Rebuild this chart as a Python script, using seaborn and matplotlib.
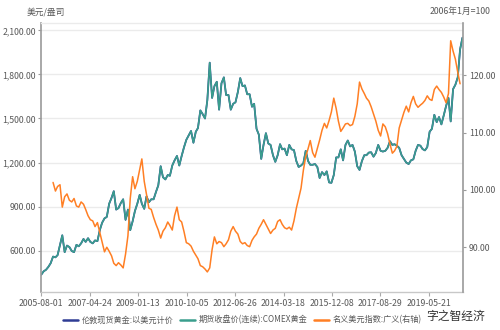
import matplotlib
matplotlib.use("Agg")
import matplotlib.pyplot as plt
from matplotlib.lines import Line2D
from matplotlib.ticker import FuncFormatter, FixedLocator
import seaborn as sns
import pandas as pd

# ---------------- data ----------------
gold_start = "2005-08-01"
gold = [
    437, 460, 470, 490, 515,
    560, 555, 570, 640, 705, 590, 635, 625, 598, 590, 640, 630,
    650, 680, 660, 685, 660, 650, 670, 665, 740, 790, 820, 830,
    920, 960, 1005, 880, 890, 925, 950, 810, 880, 740, 800, 870,
    920, 980, 920, 885, 970, 930, 950, 950, 1000, 1045, 1175, 1100,
    1085, 1115, 1110, 1180, 1215, 1245, 1180, 1245, 1305, 1355, 1385, 1415,
    1335, 1410, 1435, 1555, 1530, 1500, 1625, 1880, 1640, 1720, 1750, 1560,
    1740, 1780, 1660, 1660, 1560, 1600, 1610, 1680, 1775, 1720, 1725, 1665,
    1665, 1580, 1600, 1430, 1390, 1225, 1320, 1400, 1330, 1320, 1250, 1205,
    1250, 1325, 1290, 1295, 1250, 1320, 1290, 1285, 1210, 1170, 1180, 1195,
    1280, 1210, 1185, 1185, 1190, 1170, 1095, 1135, 1115, 1140, 1065, 1062,
    1115, 1235, 1235, 1290, 1215, 1320, 1350, 1310, 1320, 1275, 1175, 1150,
    1210, 1250, 1250, 1268, 1270, 1240, 1265, 1320, 1280, 1275, 1280, 1300,
    1345, 1320, 1325, 1315, 1300, 1250, 1225, 1200, 1190, 1215, 1222, 1280,
    1320, 1315, 1292, 1283, 1305, 1410, 1430, 1525, 1475, 1510, 1460, 1520,
    1585, 1640, 1480, 1700, 1730, 1780, 1970, 2050,
]

usd_start = "2006-01-01"
usd = [
    101.3, 99.8, 100.6, 100.9, 97.0, 98.8, 99.3, 98.2, 97.9, 98.5, 97.2, 97.0,
    97.9, 97.5, 96.6, 95.5, 94.8, 94.6, 93.6, 94.3, 92.6, 91.0, 89.2, 90.0,
    89.3, 88.5, 87.2, 86.8, 87.3, 86.9, 86.4, 88.8, 92.0, 98.5, 102.3, 100.2,
    101.5, 103.5, 105.4, 101.5, 99.2, 96.8, 96.6, 95.2, 94.0, 93.0, 91.6, 92.8,
    93.4, 94.4, 93.8, 93.0, 95.5, 97.0, 94.8, 94.4, 92.7, 90.8, 90.6, 90.2,
    89.3, 88.6, 88.0, 86.8, 86.6, 86.2, 85.7, 86.4, 89.6, 91.8, 90.6, 91.0,
    90.8, 90.1, 90.6, 91.3, 92.8, 93.6, 92.8, 92.3, 91.0, 90.6, 90.8, 90.3,
    90.1, 91.2, 91.8, 92.3, 93.3, 94.0, 94.8, 94.0, 93.2, 92.4, 93.0, 93.3,
    94.5, 94.8, 94.0, 93.4, 93.2, 93.5, 93.0, 94.6, 96.8, 98.5, 100.3, 103.4,
    105.8, 107.2, 108.6, 106.5, 105.7, 107.2, 108.7, 110.4, 111.6, 110.8, 112.1, 113.6,
    116.0, 114.2, 112.0, 110.2, 110.8, 111.5, 111.6, 111.2, 111.4, 112.8, 115.0, 118.8,
    117.6, 116.8, 116.0, 115.5, 114.5, 113.2, 112.0, 110.4, 109.4, 111.5, 111.0, 109.8,
    108.0, 106.4, 106.8, 107.6, 110.8, 112.2, 113.5, 114.6, 113.6, 115.2, 116.3, 115.0,
    114.4, 114.8, 115.1, 115.6, 116.4, 115.8, 115.6, 117.5, 118.1, 117.5, 117.0, 116.2,
    115.2, 116.8, 126.0, 124.2, 122.8, 120.5, 118.5,
]

left_ticks = [600, 900, 1200, 1500, 1800, 2100]
right_ticks = [90, 100, 110, 120]
x_tick_labels = ["2005-08-01", "2007-04-24", "2009-01-13", "2010-10-05",
                 "2012-06-26", "2014-03-18", "2015-12-08", "2017-08-29",
                 "2019-05-21"]
series_names = ["伦敦现货黄金:以美元计价", "期货收盘价(连续):COMEX黄金",
                "名义美元指数:广义(右轴)"]
left_unit = "美元/盎司"
right_unit = "2006年1月=100"
watermark = "字之智经济"

# ---------------- styling ----------------
sns.set_theme(style="white")
plt.rcParams["font.family"] = ["Noto Sans CJK SC", "DejaVu Sans"]

navy = "#2e3c94"
teal = "#3a9e8d"
orange = "#ff7f24"
grid_c = "#ebebeb"
axis_c = "#9a9a9a"
text_c = "#595959"

gold_dates = pd.date_range(gold_start, periods=len(gold), freq="MS")
usd_dates = pd.date_range(usd_start, periods=len(usd), freq="MS")
df_gold = pd.DataFrame({"date": gold_dates, "price": gold})
df_usd = pd.DataFrame({"date": usd_dates, "index": usd})

fig = plt.figure(figsize=(5, 3.3), dpi=100)
ax = fig.add_axes([0.0826, 0.1152, 0.844, 0.8151])

sns.lineplot(data=df_gold, x="date", y="price", ax=ax, color=navy, lw=1.3)
sns.lineplot(data=df_gold, x="date", y="price", ax=ax, color=teal, lw=1.15)

ax2 = ax.twinx()
sns.lineplot(data=df_usd, x="date", y="index", ax=ax2, color=orange, lw=1.1)

ax.set_xlim(pd.Timestamp("2005-08-01"), pd.Timestamp("2020-08-12"))
ax.set_ylim(319, 2150)
ax2.set_ylim(82.2, 129.1)

ax.yaxis.set_major_locator(FixedLocator(left_ticks))
ax.yaxis.set_major_formatter(FuncFormatter(lambda v, p: f"{v:,.2f}"))
ax2.yaxis.set_major_locator(FixedLocator(right_ticks))
ax2.yaxis.set_major_formatter(FuncFormatter(lambda v, p: f"{v:.2f}"))

xt = pd.to_datetime(x_tick_labels)
ax.set_xticks(xt)
ax.set_xticklabels(x_tick_labels)

ax.grid(axis="y", color=grid_c, lw=1.0)
ax.grid(axis="x", visible=False)
ax.set_axisbelow(True)
ax.set_xlabel("")
ax.set_ylabel("")
ax2.set_ylabel("")
ax2.grid(False)

for a in (ax, ax2):
    for s in a.spines.values():
        s.set_visible(False)
ax.spines["left"].set_visible(True)
ax.spines["left"].set_color(axis_c)
ax.spines["left"].set_linewidth(1.2)
ax.spines["bottom"].set_visible(True)
ax.spines["bottom"].set_color("#c8c8c8")
ax.spines["bottom"].set_linewidth(1.0)
ax.spines["top"].set_visible(True)
ax.spines["top"].set_color(grid_c)
ax.spines["top"].set_linewidth(1.0)
ax2.spines["right"].set_visible(True)
ax2.spines["right"].set_color(axis_c)
ax2.spines["right"].set_linewidth(1.2)

ax.tick_params(axis="y", labelsize=6.3, colors=text_c, length=2.5, width=0.8,
               pad=1.5, left=True, color=axis_c)
ax.tick_params(axis="x", labelsize=6.3, colors=text_c, length=3, width=0.8,
               pad=2, bottom=True, color="#aaaaaa")
ax2.tick_params(axis="y", labelsize=6.3, colors=text_c, length=2.5, width=0.8,
                pad=1.5, right=True, color=axis_c)

fig.text(0.054, 0.965, left_unit, fontsize=6.3, color=text_c, ha="left", va="center")
fig.text(0.98, 0.965, right_unit, fontsize=6.3, color=text_c, ha="right", va="center")

handles = [Line2D([], [], color=navy, lw=1.8),
           Line2D([], [], color=teal, lw=1.8),
           Line2D([], [], color=orange, lw=1.8)]
fig.legend(handles, series_names, loc="center", bbox_to_anchor=(0.485, 0.03),
           ncol=3, frameon=False, fontsize=5.9, handlelength=1.8,
           handletextpad=0.45, columnspacing=0.8, labelcolor=text_c)

fig.text(0.97, 0.04, watermark, fontsize=8.5, color="#333333", ha="right", va="center")

fig.savefig("out.png", dpi=100)
